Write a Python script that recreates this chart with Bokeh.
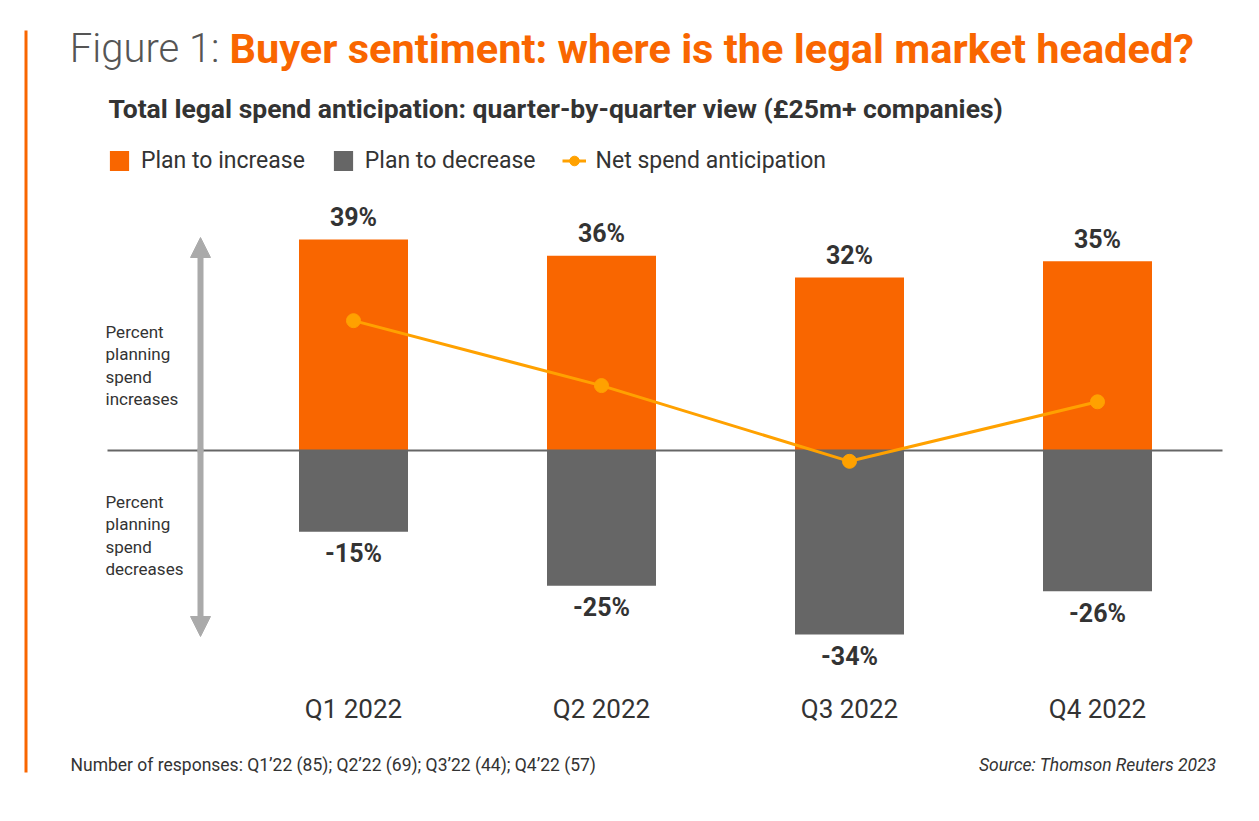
from bokeh.plotting import figure
from bokeh.models import (Range1d, Label, Legend, LegendItem, Arrow, NormalHead,
                          BoxAnnotation, ColumnDataSource)
from bokeh.core.properties import value
from bokeh.embed import file_html
from bokeh.resources import INLINE

# ---- data ----
quarters = ["Q1 2022", "Q2 2022", "Q3 2022", "Q4 2022"]
plan_increase = [39, 36, 32, 35]
plan_decrease = [-15, -25, -34, -26]
net_spend = [24, 12, -2, 9]

ORANGE = "#F96600"
GREY = "#666666"
AMBER = "#FFA100"
FONT = "Roboto"

W, H = 1243, 805
# pixel helpers for annotation placement
def X(px):
    return (px - 353) / 248.0

def Y(py):
    return (450 - py) / 5.41

p = figure(width=W, height=H, output_backend="svg", toolbar_location=None,
           x_range=Range1d(X(0), X(W)), y_range=Range1d(Y(H), Y(0)),
           min_border=0, outline_line_color=None)
p.axis.visible = False
p.grid.visible = False
p.background_fill_color = "white"
p.border_fill_color = "white"

xs = list(range(len(quarters)))
src = ColumnDataSource(dict(
    x=xs, inc=plan_increase, dec=plan_decrease, net=net_spend, q=quarters,
    inc_lbl=[f"{v}%" for v in plan_increase],
    dec_lbl=[f"{v}%" for v in plan_decrease],
))

bw = 109 / 248.0
r_inc = p.vbar(x="x", top="inc", bottom=0, width=bw, fill_color=ORANGE,
               line_color=None, source=src)
r_dec = p.vbar(x="x", top=0, bottom="dec", width=bw, fill_color=GREY,
               line_color=None, source=src)

# zero line
p.segment(x0=X(107), x1=X(1222), y0=0, y1=0, line_color=GREY, line_width=2)

r_line = p.line(x="x", y="net", line_color=AMBER, line_width=3, source=src)
r_pts = p.scatter(x="x", y="net", size=14, fill_color=AMBER, line_color=AMBER,
                  source=src)

# value labels
p.text(x="x", y="inc", text="inc_lbl", source=src, y_offset=-22,
       text_align="center", text_baseline="middle",
       text_font=value(FONT), text_font_style="bold", text_font_size="25px",
       text_color="#333333")
p.text(x="x", y="dec", text="dec_lbl", source=src, y_offset=22,
       text_align="center", text_baseline="middle",
       text_font=value(FONT), text_font_style="bold", text_font_size="25px",
       text_color="#333333")
# category labels
p.text(x="x", y=Y(708), text="q", source=src,
       text_align="center", text_baseline="middle",
       text_font=value(FONT), text_font_size="26px", text_color="#333333")

# left orange rule
p.add_layout(BoxAnnotation(left=X(24), right=X(27), top=Y(30), bottom=Y(772),
                           fill_color=ORANGE, fill_alpha=1, line_color=None))

# vertical double arrow
p.add_layout(Arrow(x_start=X(200), y_start=Y(452), x_end=X(200), y_end=Y(237),
                   line_color="#AAAAAA", line_width=6,
                   end=NormalHead(size=20, fill_color="#AAAAAA", line_color="#AAAAAA")))
p.add_layout(Arrow(x_start=X(200), y_start=Y(448), x_end=X(200), y_end=Y(636),
                   line_color="#AAAAAA", line_width=6,
                   end=NormalHead(size=20, fill_color="#AAAAAA", line_color="#AAAAAA")))

# side texts
for txt, cy in [("Percent\nplanning\nspend\nincreases", 365),
                ("Percent\nplanning\nspend\ndecreases", 535)]:
    p.add_layout(Label(x=X(105), y=Y(cy), text=txt, text_align="left",
                       text_baseline="middle", text_font=FONT,
                       text_font_size="17px", text_color="#333333",
                       text_line_height=1.12))

# titles
p.add_layout(Label(x=X(219), y=Y(48), text="Figure 1:", text_align="right",
                   text_baseline="middle", text_font="Roboto Light",
                   text_font_size="40px", text_color="#555555"))
p.add_layout(Label(x=X(229), y=Y(48), text="Buyer sentiment: where is the legal market headed?",
                   text_align="left", text_baseline="middle", text_font=FONT,
                   text_font_style="bold", text_font_size="41.5px", text_color=ORANGE))
p.add_layout(Label(x=X(108), y=Y(108),
                   text="Total legal spend anticipation: quarter-by-quarter view (£25m+ companies)",
                   text_align="left", text_baseline="middle", text_font=FONT,
                   text_font_style="bold", text_font_size="26.5px", text_color="#333333"))

# footer
p.add_layout(Label(x=X(70), y=Y(764),
                   text="Number of responses: Q1’22 (85); Q2’22 (69); Q3’22 (44); Q4’22 (57)",
                   text_align="left", text_baseline="middle",
                   text_font=FONT, text_font_size="17.5px",
                   text_color="#333333"))
p.add_layout(Label(x=X(1216), y=Y(764), text="Source: Thomson Reuters 2023",
                   text_align="right", text_baseline="middle",
                   text_font=FONT, text_font_style="italic",
                   text_font_size="17.5px", text_color="#333333"))

# legend
legend = Legend(items=[
    LegendItem(label="Plan to increase", renderers=[r_inc]),
    LegendItem(label="Plan to decrease", renderers=[r_dec]),
    LegendItem(label="Net spend anticipation", renderers=[r_line, r_pts]),
], orientation="horizontal", location=(107, H - 149 - 25),
    glyph_width=24, glyph_height=25, label_standoff=10, spacing=26,
    padding=0, margin=0, border_line_color=None, background_fill_alpha=0,
    label_text_font=FONT, label_text_font_size="23px", label_text_color="#333333")
p.add_layout(legend, "center")

open("out.html", "w").write(file_html(p, INLINE))
